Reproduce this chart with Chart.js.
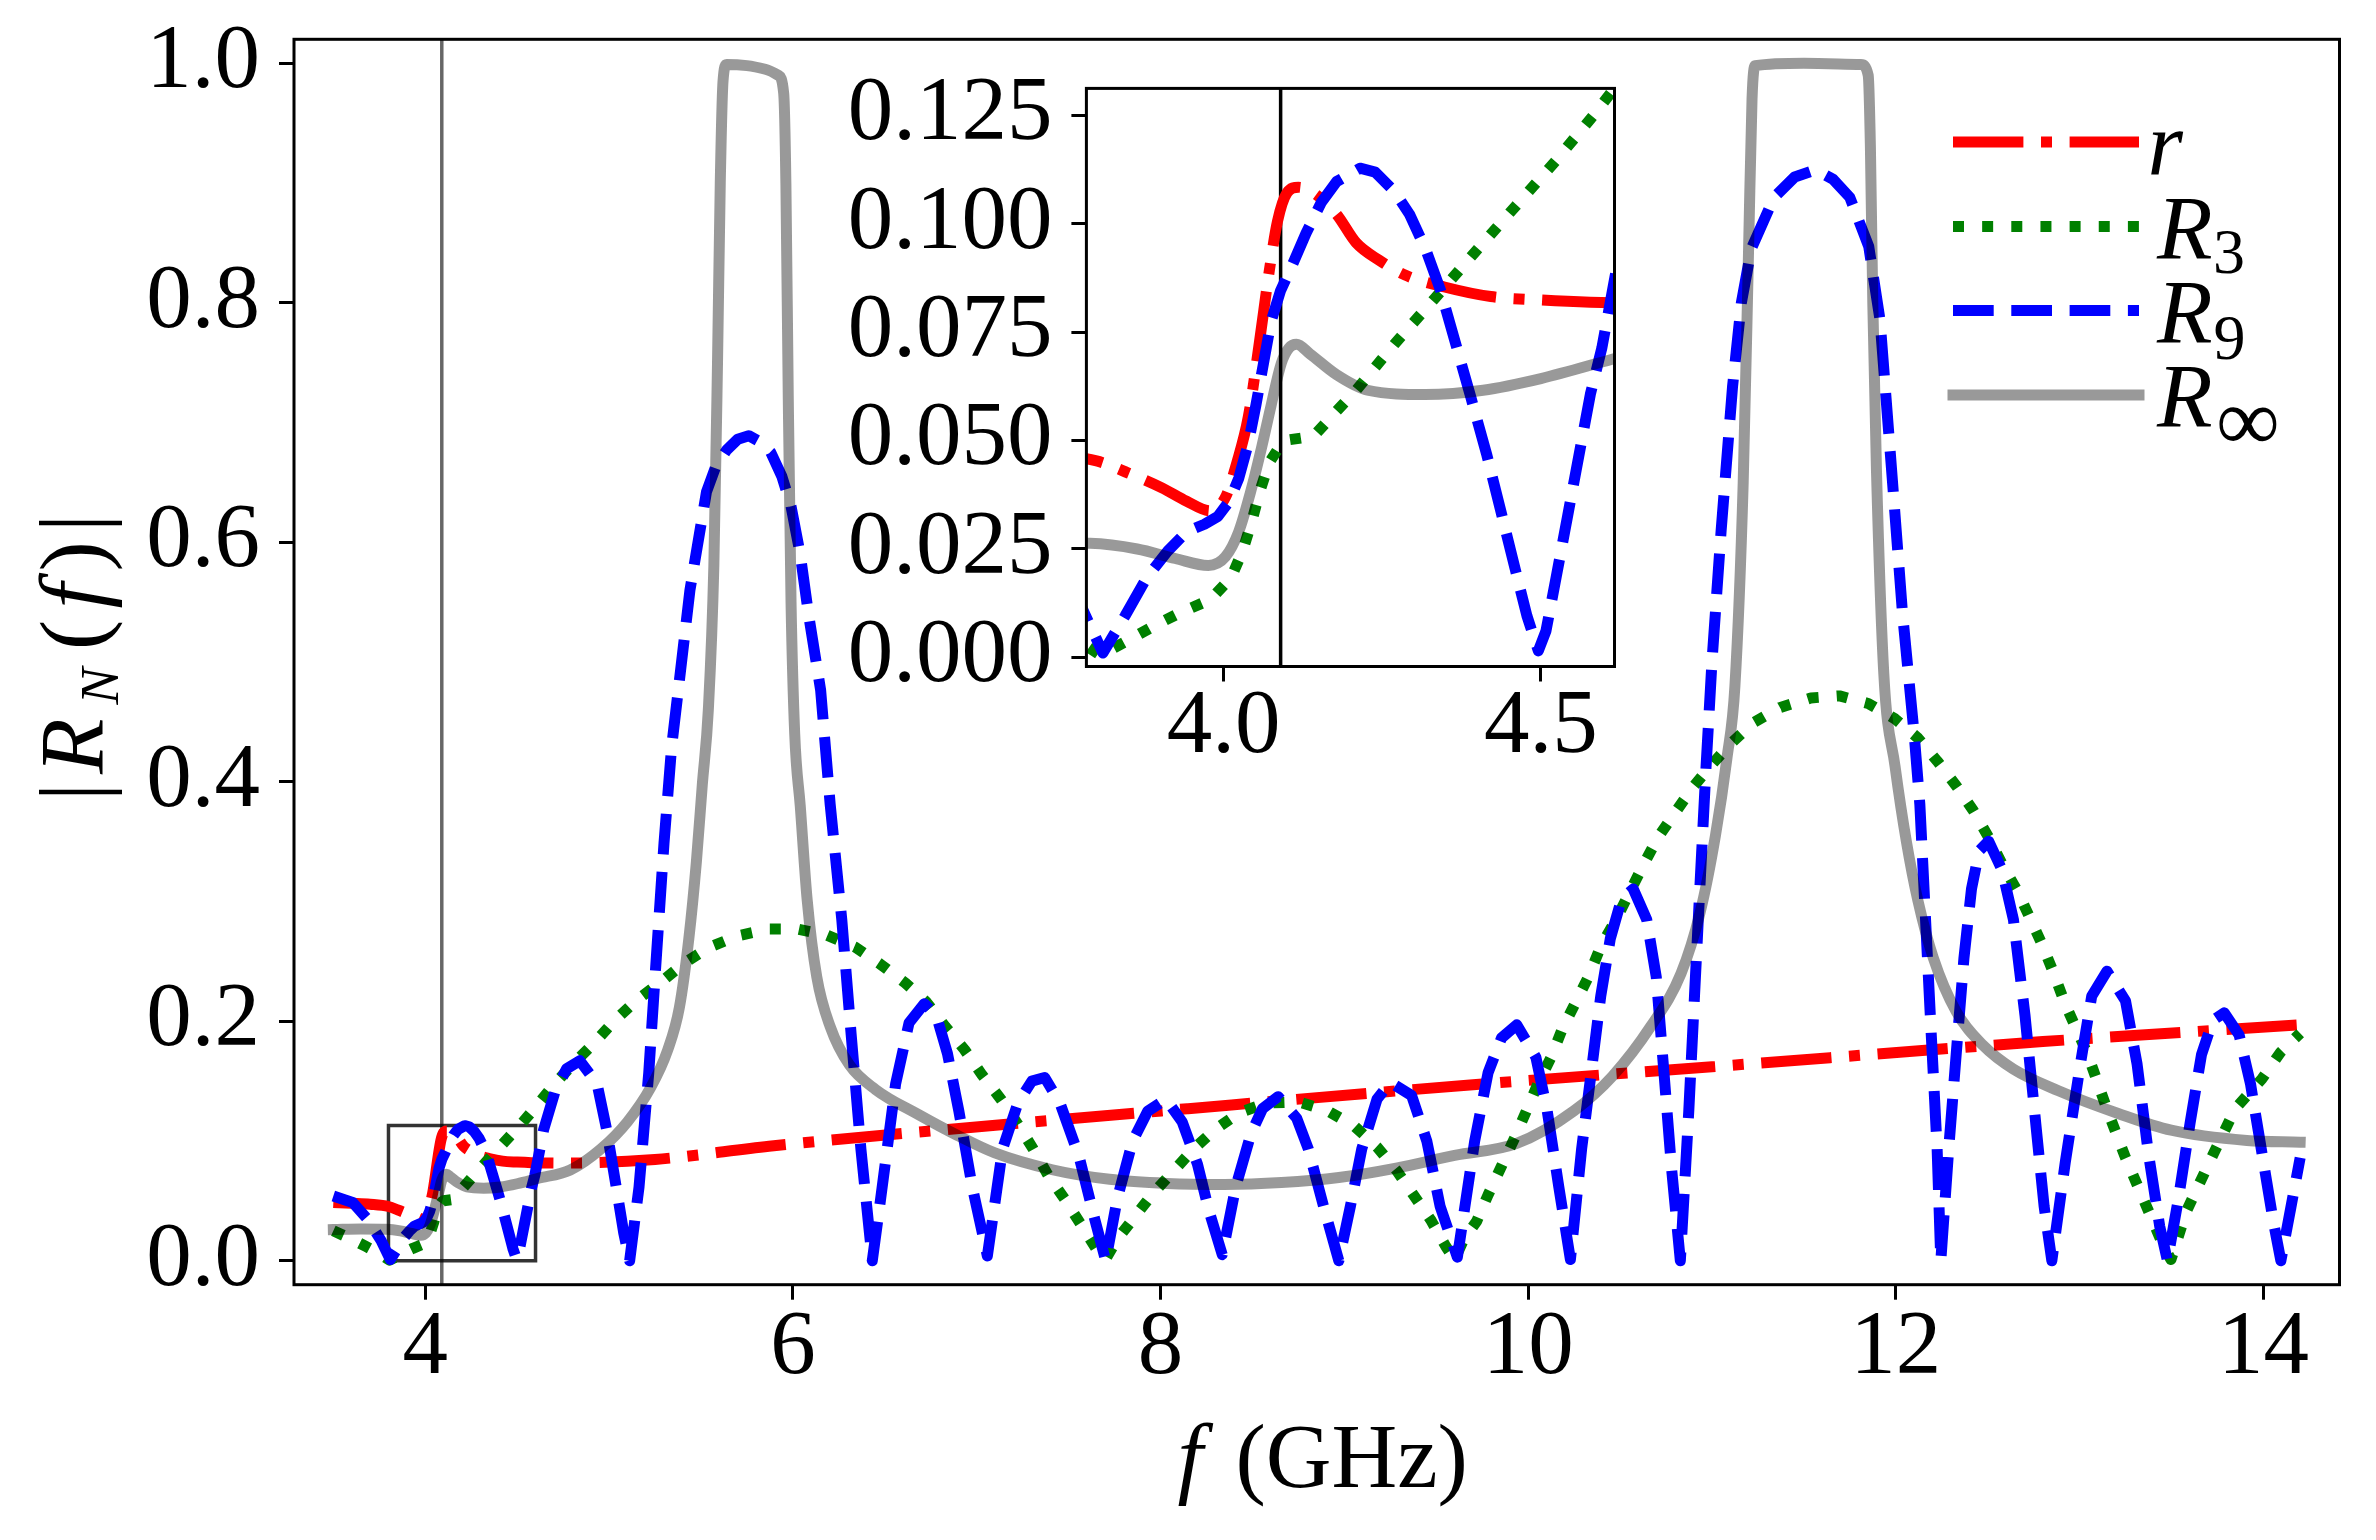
<!DOCTYPE html>
<html>
<head>
<meta charset="utf-8">
<script src="https://cdn.jsdelivr.net/npm/chart.js@4.4.1/dist/chart.umd.min.js"></script>
<style>
  html, body { margin: 0; padding: 0; background: #fff; }
  #wrap { position: relative; width: 2376px; height: 1540px; }
  #main { position: absolute; left: 0; top: 0; }
  #inset { position: absolute; left: 760px; top: 40px; }
</style>
</head>
<body>
<div id="wrap">
  <canvas id="main" width="2376" height="1540"></canvas>
  <canvas id="inset" width="900" height="780"></canvas>
</div>
<script>
// ---- data (f in GHz, |R_N(f)|) ----
const rFreq = [3.5, 3.6, 3.7, 3.8, 3.85, 3.903, 3.942, 3.979, 4.003, 4.021, 4.039, 4.057, 4.072, 4.085, 4.1, 4.118, 4.142, 4.178, 4.209, 4.245, 4.287, 4.348, 4.421, 4.5, 4.578, 4.75, 5.25, 5.87, 6.476, 8.15, 9.7, 11.0, 12.8, 14.2];
const rVals = [0.0487, 0.048, 0.0472, 0.0453, 0.0425, 0.0391, 0.036, 0.0338, 0.0369, 0.0449, 0.0554, 0.0731, 0.089, 0.1005, 0.1071, 0.1084, 0.1071, 0.1022, 0.0956, 0.0916, 0.0881, 0.0854, 0.0832, 0.0824, 0.0819, 0.0816, 0.0846, 0.0956, 0.1046, 0.127, 0.147, 0.162, 0.183, 0.197];

const r3Freq = [3.5, 3.6, 3.677, 3.75, 3.806, 3.848, 3.891, 3.933, 3.979, 4.012,
  4.03, 4.045, 4.057, 4.072, 4.09, 4.1, 4.142, 4.175, 4.209, 4.269,
  4.333, 4.396, 4.46, 4.524, 4.584, 4.686, 4.8, 4.914, 5.029, 5.153,
  5.278, 5.413, 5.548, 5.704, 5.871, 6.027, 6.183, 6.338, 6.473, 6.611,
  6.725, 6.829, 6.933, 7.027, 7.131, 7.224, 7.307, 7.39, 7.484, 7.577,
  7.65, 7.70, 7.76, 7.848, 7.952, 8.066, 8.18, 8.295, 8.43, 8.575,
  8.752, 8.908, 9.054, 9.178, 9.282, 9.376, 9.469, 9.552, 9.6, 9.65,
  9.72, 9.782, 9.855, 9.928, 9.99, 10.053, 10.125, 10.187, 10.26, 10.333,
  10.395, 10.478, 10.551, 10.624, 10.707, 10.8, 10.894, 10.998, 11.102, 11.226,
  11.372, 11.538, 11.694, 11.85, 11.996, 12.12, 12.225, 12.329, 12.422, 12.505,
  12.578, 12.661, 12.734, 12.796, 12.859, 12.92, 13.045, 13.148, 13.25, 13.354,
  13.457, 13.497, 13.58, 13.724, 13.847, 13.991, 14.094, 14.2];
const r3Vals = [0.025, 0.018, 0.012, 0.006, 0.0005, 0.0038, 0.0073, 0.0104, 0.0133, 0.0184,
  0.0245, 0.0316, 0.0382, 0.0449, 0.049, 0.0501, 0.051, 0.0563, 0.0616, 0.0722,
  0.0828, 0.0934, 0.104, 0.1146, 0.1252, 0.1445, 0.1637, 0.181, 0.2004, 0.218,
  0.2322, 0.249, 0.262, 0.2715, 0.277, 0.277, 0.272, 0.262, 0.248, 0.232,
  0.2163, 0.1955, 0.1764, 0.1557, 0.135, 0.114, 0.0934, 0.071, 0.0503, 0.028,
  0.01, 0.001, 0.017, 0.0344, 0.055, 0.0742, 0.0934, 0.1094, 0.1237, 0.1317,
  0.1326, 0.1253, 0.1125, 0.095, 0.0758, 0.055, 0.0344, 0.012, 0.001, 0.018,
  0.033, 0.055, 0.079, 0.103, 0.125, 0.1477, 0.17, 0.194, 0.2163, 0.2387,
  0.2626, 0.285, 0.3073, 0.3297, 0.3536, 0.3743, 0.395, 0.4142, 0.4318, 0.4494,
  0.4621, 0.47, 0.4717, 0.4653, 0.4525, 0.4366, 0.4174, 0.3966, 0.3759, 0.3536,
  0.3313, 0.3089, 0.285, 0.2642, 0.2402, 0.215, 0.172, 0.127, 0.086, 0.049,
  0.012, 0.001, 0.041, 0.088, 0.127, 0.1517, 0.1742, 0.19];

const r9Freq = [3.5, 3.605, 3.688, 3.76, 3.81, 3.845, 3.879, 3.912, 3.942, 3.97,
  3.991, 4.009, 4.024, 4.039, 4.051, 4.063, 4.075, 4.09, 4.109, 4.13,
  4.154, 4.178, 4.215, 4.239, 4.269, 4.293, 4.318, 4.342, 4.366, 4.39,
  4.415, 4.439, 4.46, 4.478, 4.496, 4.508, 4.524, 4.542, 4.56, 4.578,
  4.596, 4.644, 4.706, 4.769, 4.841, 4.935, 4.987, 5.039, 5.08, 5.112,
  5.163, 5.216, 5.257, 5.299, 5.34, 5.44, 5.53, 5.58, 5.64, 5.70,
  5.76, 5.82, 5.88, 5.94, 5.99, 6.04, 6.085, 6.151, 6.203, 6.266,
  6.317, 6.37, 6.432, 6.476, 6.559, 6.632, 6.715, 6.78, 6.841, 6.903,
  6.976, 7.058, 7.141, 7.224, 7.30, 7.37, 7.453, 7.557, 7.64, 7.702,
  7.765, 7.848, 7.931, 8.03, 8.118, 8.201, 8.263, 8.336, 8.409, 8.492,
  8.555, 8.64, 8.741, 8.804, 8.887, 8.97, 9.033, 9.095, 9.178, 9.25,
  9.366, 9.449, 9.521, 9.615, 9.647, 9.709, 9.782, 9.855, 9.938, 10.042,
  10.104, 10.167, 10.23, 10.291, 10.343, 10.395, 10.447, 10.509, 10.572, 10.645,
  10.697, 10.739, 10.78, 10.828, 10.874, 10.905, 10.936, 10.967, 11.0, 11.05,
  11.112, 11.16, 11.214, 11.338, 11.45, 11.564, 11.66, 11.75, 11.853, 11.914,
  11.976, 12.037, 12.1, 12.131, 12.162, 12.193, 12.225, 12.245, 12.288, 12.329,
  12.371, 12.412, 12.454, 12.505, 12.578, 12.64, 12.703, 12.765, 12.807, 12.849,
  12.922, 13.004, 13.066, 13.149, 13.25, 13.313, 13.374, 13.436, 13.478, 13.539,
  13.601, 13.663, 13.725, 13.787, 13.868, 13.93, 13.992, 14.054, 14.095, 14.15,
  14.2];
const r9Vals = [0.054, 0.0487, 0.0344, 0.0168, 0.001, 0.0096, 0.0184, 0.0245, 0.029, 0.0307,
  0.0325, 0.036, 0.0413, 0.0493, 0.0581, 0.0678, 0.0775, 0.0846, 0.0907, 0.0978,
  0.1049, 0.1097, 0.1128, 0.1119, 0.1075, 0.1022, 0.0943, 0.0846, 0.0722, 0.0598,
  0.0466, 0.0325, 0.0201, 0.0096, 0.0015, 0.0061, 0.0184, 0.0325, 0.0466, 0.0607,
  0.0713, 0.1094, 0.1413, 0.1604, 0.167, 0.1477, 0.1094, 0.0615, 0.023, 0.0,
  0.0615, 0.157, 0.253, 0.349, 0.4286, 0.56, 0.642, 0.663, 0.677, 0.686,
  0.689, 0.684, 0.675, 0.655, 0.63, 0.59, 0.54, 0.4765, 0.381, 0.285,
  0.189, 0.0934, 0.0, 0.05, 0.1477, 0.1987, 0.2147, 0.205, 0.173, 0.125,
  0.0615, 0.004, 0.0934, 0.1317, 0.15, 0.153, 0.1317, 0.087, 0.036, 0.0,
  0.052, 0.0998, 0.125, 0.135, 0.116, 0.0807, 0.042, 0.005, 0.0615, 0.106,
  0.127, 0.137, 0.119, 0.0934, 0.0455, 0.0, 0.0455, 0.0934, 0.135, 0.149,
  0.138, 0.0998, 0.0455, 0.003, 0.036, 0.0998, 0.157, 0.186, 0.197, 0.17,
  0.125, 0.0615, 0.001, 0.0934, 0.157, 0.221, 0.269, 0.3025, 0.3105, 0.285,
  0.237, 0.157, 0.0774, 0.0, 0.1253, 0.221, 0.317, 0.41, 0.5, 0.61,
  0.73, 0.8, 0.845, 0.888, 0.905, 0.911, 0.903, 0.888, 0.847, 0.786,
  0.663, 0.54, 0.44, 0.381, 0.285, 0.189, 0.0934, 0.0, 0.0934, 0.173,
  0.253, 0.3105, 0.3424, 0.3504, 0.3264, 0.285, 0.205, 0.1094, 0.0455, 0.0,
  0.082, 0.164, 0.221, 0.2418, 0.217, 0.164, 0.09, 0.0287, 0.0, 0.053,
  0.1148, 0.172, 0.2008, 0.207, 0.1885, 0.1476, 0.09, 0.0328, 0.0, 0.045,
  0.086];

const rinfFreq = [3.5, 3.65, 3.79, 3.864, 3.924, 3.976, 4.003, 4.024, 4.042, 4.06,
  4.075, 4.091, 4.103, 4.115, 4.136, 4.178, 4.227, 4.318, 4.409, 4.5,
  4.611, 4.789, 4.956, 5.1, 5.226, 5.319, 5.382, 5.434, 5.475, 5.507,
  5.54, 5.57, 5.59, 5.605, 5.62, 5.64, 5.75, 5.85, 5.92, 5.95,
  5.962, 5.975, 5.99, 6.01, 6.04, 6.078, 6.13, 6.203, 6.307, 6.45,
  6.684, 6.891, 7.099, 7.411, 7.723, 8.035, 8.347, 8.658, 8.97, 9.282,
  9.6, 9.938, 10.25, 10.458, 10.666, 10.832, 10.936, 11.019, 11.081, 11.125,
  11.17, 11.2, 11.218, 11.235, 11.5, 11.81, 11.85, 11.862, 11.875, 11.895,
  11.935, 11.996, 12.059, 12.12, 12.204, 12.329, 12.474, 12.64, 12.885, 13.21,
  13.498, 13.91, 14.2];
const rinfVals = [0.026, 0.0265, 0.0263, 0.025, 0.0228, 0.0212, 0.0232, 0.029, 0.0378, 0.0484,
  0.0581, 0.0678, 0.0713, 0.0722, 0.07, 0.0652, 0.0616, 0.0606, 0.0616, 0.0643,
  0.0687, 0.0758, 0.0934, 0.116, 0.1445, 0.176, 0.211, 0.269, 0.333, 0.397,
  0.46, 0.58, 0.75, 0.9, 0.985, 0.999, 0.998, 0.995, 0.99, 0.975,
  0.9, 0.72, 0.55, 0.44, 0.38, 0.301, 0.237, 0.1955, 0.1637, 0.143,
  0.122, 0.105, 0.09, 0.076, 0.068, 0.0646, 0.0637, 0.0653, 0.0695, 0.0774,
  0.088, 0.098, 0.1253, 0.154, 0.1955, 0.24, 0.291, 0.355, 0.419, 0.48,
  0.65, 0.85, 0.97, 0.998, 1.0, 0.999, 0.99, 0.93, 0.8, 0.66,
  0.49, 0.413, 0.349, 0.301, 0.253, 0.208, 0.18, 0.16, 0.142, 0.123,
  0.109, 0.1004, 0.099];

// reference marker (vertical line) and the zoom box drawn on the main axes
const markerFreq = [4.09, 4.09];
const markerVals = [-0.05, 1.05];
const boxFreq = [3.8, 4.6, 4.6, 3.8, 3.8];
const boxVals = [0, 0, 0.113, 0.113, 0];

// ticks
const xTicksMain = [4, 6, 8, 10, 12, 14];
const yTicksMain = [0, 0.2, 0.4, 0.6, 0.8, 1.0];
const xTicksInset = [4.0, 4.5];
const yTicksInset = [0, 0.025, 0.05, 0.075, 0.1, 0.125];

const SERIF = '"Liberation Serif", "Times New Roman", Times, serif';
const FS = 91;
const TICK_FONT = { family: SERIF, size: FS, lineHeight: 1.0 };

// line styles per series (matplotlib r-. / g: / b-- / gray solid)
const seriesStyle = [
  { color: '#ff0000', dash: [70.4, 17.6, 11, 17.6], cap: 'butt', mode: 'monotone', order: 4 },
  { color: '#008000', dash: [11, 18.15], cap: 'butt', mode: 'default', order: 3 },
  { color: '#0000ff', dash: [40.7, 17.6], cap: 'butt', mode: 'default', order: 2 },
  { color: 'rgba(0,0,0,0.4)', dash: [], cap: 'square', mode: 'monotone', order: 1 }
];

function pts(xs, ys) {
  return xs.map((x, i) => ({ x: x, y: ys[i] }));
}

function curveDatasets() {
  const sets = [[rFreq, rVals], [r3Freq, r3Vals], [r9Freq, r9Vals], [rinfFreq, rinfVals]];
  const names = ['r', 'R3', 'R9', 'Rinf'];
  return sets.map((s, i) => ({
    label: names[i],
    data: pts(s[0], s[1]),
    borderColor: seriesStyle[i].color,
    borderWidth: 11,
    borderDash: seriesStyle[i].dash,
    borderCapStyle: seriesStyle[i].cap,
    borderJoinStyle: 'round',
    cubicInterpolationMode: seriesStyle[i].mode,
    tension: 0,
    pointRadius: 0, pointHoverRadius: 0, pointHitRadius: 0,
    fill: false, clip: 0,
    order: seriesStyle[i].order
  }));
}

function plainLine(xs, ys, color, width) {
  return {
    label: '', data: pts(xs, ys), borderColor: color, borderWidth: width,
    tension: 0, pointRadius: 0, pointHoverRadius: 0, fill: false, clip: 0, order: 5
  };
}

function zeroPad(s) {
  s.paddingLeft = 0; s.paddingRight = 0; s.paddingTop = 0; s.paddingBottom = 0;
}

const tickGrid = {
  display: true, drawOnChartArea: false, drawTicks: true,
  tickLength: 15, tickWidth: 3, tickColor: '#000', color: '#000', lineWidth: 3
};

// draw text so that its ink is centred on cx
function inkText(ctx, text, font, cx, baseline) {
  ctx.font = font;
  ctx.textAlign = 'left';
  ctx.textBaseline = 'alphabetic';
  const m = ctx.measureText(text);
  ctx.fillText(text, cx + (m.actualBoundingBoxLeft - m.actualBoundingBoxRight) / 2, baseline);
}

function drawLegend(chart) {
  const ctx = chart.ctx;
  const rows = [142, 226.5, 310.5, 395];
  ctx.save();
  for (let i = 0; i < 4; i++) {
    const ds = chart.data.datasets[i];
    ctx.strokeStyle = ds.borderColor;
    ctx.lineWidth = ds.borderWidth;
    ctx.lineCap = ds.borderCapStyle;
    ctx.setLineDash(ds.borderDash);
    ctx.beginPath();
    ctx.moveTo(1953, rows[i]);
    ctx.lineTo(2139, rows[i]);
    ctx.stroke();
  }
  ctx.setLineDash([]);
  ctx.fillStyle = '#000';
  const it = 'italic ' + FS + 'px ' + SERIF;
  const sub = Math.round(FS * 0.7) + 'px ' + SERIF;
  inkText(ctx, 'r', it, 2167, rows[0] + 32);
  inkText(ctx, 'R', it, 2184, rows[1] + 32);
  inkText(ctx, '3', sub, 2229.5, rows[1] + 46);
  inkText(ctx, 'R', it, 2184, rows[2] + 32);
  inkText(ctx, '9', sub, 2229.5, rows[2] + 48);
  inkText(ctx, 'R', it, 2184, rows[3] + 32);
  // infinity subscript: ink ~58px wide, centred at 2248, bottom at ~442
  ctx.font = '100px ' + SERIF;
  let m = ctx.measureText('\u221E');
  const s = 100 * 58 / (m.actualBoundingBoxLeft + m.actualBoundingBoxRight);
  ctx.font = s + 'px ' + SERIF;
  m = ctx.measureText('\u221E');
  inkText(ctx, '\u221E', s + 'px ' + SERIF, 2248, 442 - m.actualBoundingBoxDescent);
  ctx.restore();
}

function drawTitles(chart) {
  const ctx = chart.ctx;
  const up = FS + 'px ' + SERIF;
  const it = 'italic ' + FS + 'px ' + SERIF;
  ctx.save();
  ctx.fillStyle = '#000';
  // x title: f (GHz)
  inkText(ctx, 'f', it, 1196, 1487);
  inkText(ctx, '(GHz)', up, 1352, 1487);
  // y title: |R_N(f)|, rotated
  ctx.translate(103, 795);
  ctx.rotate(-Math.PI / 2);
  inkText(ctx, '|', up, 3, 0);
  inkText(ctx, 'R', it, 48, 0);
  inkText(ctx, 'N', 'italic 55px ' + SERIF, 110, 15);
  inkText(ctx, '(', up, 161, 0);
  inkText(ctx, 'f', it, 205, 0);
  inkText(ctx, ')', up, 238, 0);
  inkText(ctx, '|', up, 272, 0);
  ctx.restore();
}

const frameBox = {
  id: 'frameBox',
  beforeDatasetsDraw(chart, args, opts) {
    if (!opts.fill) return;
    const a = chart.chartArea, ctx = chart.ctx;
    ctx.save();
    ctx.fillStyle = '#fff';
    ctx.fillRect(a.left, a.top, a.right - a.left, a.bottom - a.top);
    ctx.restore();
  },
  afterDatasetsDraw(chart) {
    const a = chart.chartArea, ctx = chart.ctx;
    ctx.save();
    ctx.strokeStyle = '#000';
    ctx.lineWidth = 3;
    ctx.strokeRect(a.left, a.top, a.right - a.left, a.bottom - a.top);
    ctx.restore();
  }
};

const mainDecor = {
  id: 'mainDecor',
  afterDraw(chart) {
    drawLegend(chart);
    drawTitles(chart);
  }
};

// ---- main axes ----
new Chart(document.getElementById('main'), {
  type: 'line',
  data: {
    datasets: curveDatasets().concat([
      plainLine(markerFreq, markerVals, 'rgba(0,0,0,0.6)', 3.5),
      plainLine(boxFreq, boxVals, 'rgba(0,0,0,0.8)', 3.5)
    ])
  },
  options: {
    responsive: false, animation: false, events: [],
    layout: { padding: { left: 0, right: 36.5, top: 39.3, bottom: 0 } },
    plugins: { legend: { display: false }, tooltip: { enabled: false }, frameBox: { fill: false } },
    scales: {
      x: {
        type: 'linear', min: 3.286, max: 14.414,
        afterBuildTicks: s => { s.ticks = xTicksMain.map(v => ({ value: v })); },
        afterFit: s => { s.height = 255.3; zeroPad(s); },
        grid: tickGrid, border: { display: false },
        ticks: { font: TICK_FONT, color: '#000', padding: 4, autoSkip: false, maxRotation: 0, minRotation: 0,
                 callback: v => String(v) }
      },
      y: {
        type: 'linear', min: -0.02, max: 1.02,
        afterBuildTicks: s => { s.ticks = yTicksMain.map(v => ({ value: v })); },
        afterFit: s => { s.width = 294; zeroPad(s); },
        grid: tickGrid, border: { display: false },
        ticks: { font: TICK_FONT, color: '#000', padding: 19, autoSkip: false,
                 callback: v => v.toFixed(1) }
      }
    }
  },
  plugins: [frameBox, mainDecor]
});

// ---- inset axes ----
new Chart(document.getElementById('inset'), {
  type: 'line',
  data: {
    datasets: curveDatasets().concat([
      plainLine(markerFreq, markerVals, '#000', 3.5)
    ])
  },
  options: {
    responsive: false, animation: false, events: [],
    layout: { padding: { left: 0, right: 45.5, top: 48.4, bottom: 0 } },
    plugins: { legend: { display: false }, tooltip: { enabled: false }, frameBox: { fill: true } },
    scales: {
      x: {
        type: 'linear', min: 3.784, max: 4.616,
        afterBuildTicks: s => { s.ticks = xTicksInset.map(v => ({ value: v })); },
        afterFit: s => { s.height = 153.5; zeroPad(s); },
        grid: tickGrid, border: { display: false },
        ticks: { font: TICK_FONT, color: '#000', padding: 1, autoSkip: false, maxRotation: 0, minRotation: 0,
                 callback: v => v.toFixed(1) }
      },
      y: {
        type: 'linear', min: -0.0021, max: 0.1312,
        afterBuildTicks: s => { s.ticks = yTicksInset.map(v => ({ value: v })); },
        afterFit: s => { s.width = 326.4; zeroPad(s); },
        grid: tickGrid, border: { display: false },
        ticks: { font: TICK_FONT, color: '#000', padding: 19, autoSkip: false,
                 callback: v => v.toFixed(3) }
      }
    }
  },
  plugins: [frameBox]
});
</script>
</body>
</html>
